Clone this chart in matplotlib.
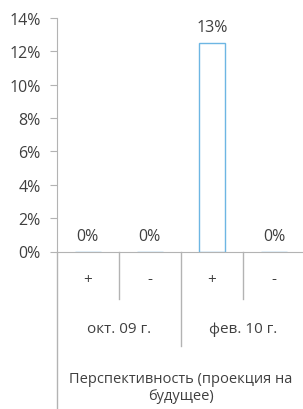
import matplotlib
matplotlib.use("Agg")
import matplotlib.pyplot as plt
import matplotlib.transforms as mtransforms

# Data
groups = ["окт. 09 г.", "фев. 10 г."]
subcats = ["+", "-", "+", "-"]
values = [0.0, 0.0, 0.1252, 0.0]
yticks = [0, 0.02, 0.04, 0.06, 0.08, 0.10, 0.12, 0.14]
axis_title = "Перспективность (проекция на\nбудущее)"

plt.rcParams['font.family'] = ['Open Sans', 'DejaVu Sans']
TEXT = '#404040'
GRID = '#b3b3b3'
BAR = '#6db6e3'
FS = 10.5
FS_NUM = 11.5
FS_GRP = 11

W, H = 303, 410
fig = plt.figure(figsize=(W / 100, H / 100), dpi=100)
left_px, right_px, top_px, bot_px = 56.5, 305, 19, 252.5
ax = fig.add_axes([left_px / W, (H - bot_px) / H, (right_px - left_px) / W, (bot_px - top_px) / H])

x = list(range(len(values)))
ax.bar(x, values, width=0.42, facecolor='white', edgecolor=BAR, linewidth=1.0, zorder=2)
for xi, v in zip(x, values):
    ax.annotate(f"{v * 100:.0f}%", (xi, v), xytext=(0, 5.5), textcoords='offset points',
                ha='center', va='bottom', fontsize=FS_NUM, color=TEXT)

ax.set_xlim(-0.5, len(values) - 0.5)
ax.set_ylim(0, 0.14)
ax.set_yticks(yticks)
ax.set_yticklabels([f"{t * 100:.0f}%" for t in yticks], fontsize=FS_NUM, color=TEXT)
ax.tick_params(axis='y', length=5, color=GRID, pad=6.5)
ax.set_xticks([])
for s in ['top', 'right']:
    ax.spines[s].set_visible(False)
ax.spines['left'].set_color(GRID)
ax.spines['bottom'].set_color(GRID)
ax.spines['left'].set_zorder(3)
ax.spines['bottom'].set_zorder(3)

tr = mtransforms.blended_transform_factory(ax.transData, ax.transAxes)
hpx = bot_px - top_px
def fy(py):
    return -(py - bot_px) / hpx

# left axis line extends down
ax.plot([-0.5, -0.5], [0, fy(H + 2)], transform=tr, color=GRID, lw=1, clip_on=False)
# minor separators
for sx in [0.5, 2.5]:
    ax.plot([sx, sx], [0, fy(300)], transform=tr, color=GRID, lw=1, clip_on=False)
# group separator
ax.plot([1.5, 1.5], [0, fy(347)], transform=tr, color=GRID, lw=1, clip_on=False)

for xi, s in zip(x, subcats):
    ax.text(xi, fy(280), s, transform=tr, ha='center', va='center', fontsize=FS_GRP, color=TEXT)
for gi, g in enumerate(groups):
    ax.text(gi * 2 + 0.5, fy(330), g, transform=tr, ha='center', va='center', fontsize=FS_GRP, color=TEXT)
ax.text(1.5, fy(388), axis_title, transform=tr, ha='center', va='center', fontsize=FS,
        color=TEXT, linespacing=1.2)

fig.savefig("out.png", dpi=100)
